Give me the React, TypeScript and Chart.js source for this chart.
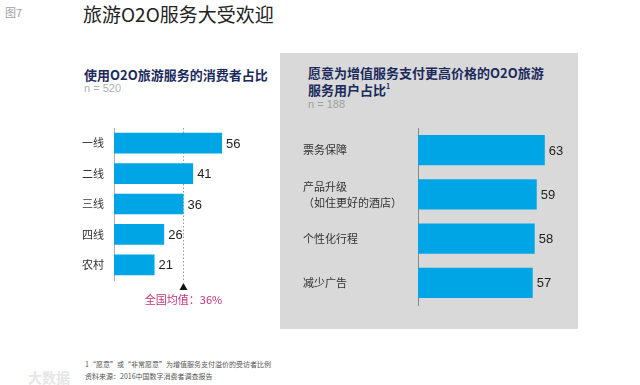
import React, { useEffect, useRef } from "react";
import { Chart, registerables } from "chart.js";

Chart.register(...registerables);

const leftCategories = ["一线", "二线", "三线", "四线", "农村"];
const leftValues = [56, 41, 36, 26, 21];
const nationalAverage = 36;
const nationalAverageLabel = "全国均值：36%";

const rightCategories = [["票务保障"], ["产品升级", "（如住更好的酒店）"], ["个性化行程"], ["减少广告"]];
const rightValues = [63, 59, 58, 57];

const BAR_COLOR = "#00a5e6";
const CJK = '"Noto Sans CJK SC", sans-serif';
const LATIN = '"Liberation Sans", Arial, sans-serif';

const valueLabels = {
  id: "valueLabels",
  afterDatasetsDraw(chart: any) {
    const ctx = chart.ctx;
    const meta = chart.getDatasetMeta(0);
    const data = chart.data.datasets[0].data;
    ctx.save();
    ctx.font = `13px ${LATIN}`;
    ctx.fillStyle = "#222";
    ctx.textBaseline = "middle";
    ctx.textAlign = "left";
    meta.data.forEach((el: any, i: number) => {
      ctx.fillText(String(data[i]), el.x + 4, el.y + 1);
    });
    ctx.restore();
  },
};

const averageMarker = {
  id: "averageMarker",
  beforeDatasetsDraw(chart: any) {
    const ctx = chart.ctx;
    const x = chart.scales.x.getPixelForValue(nationalAverage);
    const { top, bottom } = chart.chartArea;
    ctx.save();
    ctx.strokeStyle = "#9a9a9a";
    ctx.lineWidth = 1;
    ctx.setLineDash([1.5, 2]);
    ctx.beginPath();
    ctx.moveTo(Math.round(x) + 0.5, top);
    ctx.lineTo(Math.round(x) + 0.5, bottom + 2);
    ctx.stroke();
    ctx.restore();
  },
  afterDraw(chart: any) {
    const ctx = chart.ctx;
    const x = chart.scales.x.getPixelForValue(nationalAverage);
    const { bottom } = chart.chartArea;
    ctx.save();
    ctx.fillStyle = "#111";
    ctx.beginPath();
    ctx.moveTo(x, bottom + 3);
    ctx.lineTo(x - 4, bottom + 10);
    ctx.lineTo(x + 4, bottom + 10);
    ctx.closePath();
    ctx.fill();
    ctx.font = `11px ${CJK}`;
    ctx.fillStyle = "#c2317e";
    ctx.textAlign = "center";
    ctx.textBaseline = "middle";
    ctx.fillText(nationalAverageLabel, x, bottom + 20);
    ctx.restore();
  },
};

function BarChart(props: {
  labels: any[];
  values: number[];
  max: number;
  axisWidth: number;
  padTop: number;
  padBottom: number;
  barPct: number;
  crossAlign: "near" | "far";
  tickPadding: number;
  axisColor: string;
  fontSize: number;
  extra?: any[];
  left: number;
  top: number;
  width: number;
  height: number;
}) {
  const ref = useRef<HTMLCanvasElement | null>(null);
  useEffect(() => {
    if (!ref.current) return;
    const chart = new Chart(ref.current, {
      type: "bar",
      data: {
        labels: props.labels,
        datasets: [
          {
            data: props.values,
            backgroundColor: BAR_COLOR,
            borderWidth: 0,
            categoryPercentage: 1,
            barPercentage: props.barPct,
          },
        ],
      },
      options: {
        indexAxis: "y",
        animation: false,
        responsive: false,
        devicePixelRatio: 1,
        layout: { padding: { top: props.padTop, bottom: props.padBottom, left: 0, right: 0 } },
        plugins: { legend: { display: false }, tooltip: { enabled: false }, title: { display: false } },
        scales: {
          x: { display: false, min: 0, max: props.max },
          y: {
            afterFit: (scale: any) => {
              scale.width = props.axisWidth;
              scale.paddingTop = 0;
              scale.paddingBottom = 0;
            },
            grid: { display: false, drawTicks: false },
            border: { display: true, color: props.axisColor, width: 1 },
            ticks: {
              crossAlign: props.crossAlign,
              padding: props.tickPadding,
              color: "#333",
              font: { family: CJK, size: props.fontSize, lineHeight: 1.45 },
            },
          },
        },
      } as any,
      plugins: [valueLabels, ...(props.extra || [])],
    });
    return () => chart.destroy();
  }, []);
  return (
    <canvas
      ref={ref}
      width={props.width}
      height={props.height}
      style={{ position: "absolute", left: props.left, top: props.top, width: props.width, height: props.height }}
    />
  );
}

const abs = (left: number, top: number, extra: any = {}) => ({
  position: "absolute" as const,
  left,
  top,
  whiteSpace: "nowrap" as const,
  margin: 0,
  ...extra,
});

export default function App() {
  return (
    <div style={{ position: "absolute", left: 0, top: 0, width: 640, height: 385, background: "#fff", overflow: "hidden" }}>
      <div style={abs(5, 5, { fontSize: 11, lineHeight: "14px", color: "#a0a0a0", fontFamily: CJK })}>图7</div>
      <div style={abs(83, 2, { fontSize: 19, lineHeight: "24px", color: "#222", fontFamily: CJK })}>旅游O2O服务大受欢迎</div>

      <div style={abs(84, 66, { fontSize: 13, lineHeight: "18px", color: "#1b2a5c", fontWeight: 700, fontFamily: CJK })}>
        使用O2O旅游服务的消费者占比
      </div>
      <div style={abs(84, 81, { fontSize: 11, lineHeight: "14px", color: "#b0b0b0", fontFamily: LATIN })}>n = 520</div>

      <div style={{ position: "absolute", left: 280, top: 53, width: 298, height: 276, background: "#d9d9d9" }} />
      <div style={abs(308, 64, { fontSize: 13, lineHeight: "17px", color: "#1b2a5c", fontWeight: 700, fontFamily: CJK })}>
        愿意为增值服务支付更高价格的O2O旅游
        <br />
        服务用户占比<sup style={{ fontSize: 7, verticalAlign: "top", lineHeight: "10px" }}>1</sup>
      </div>
      <div style={abs(308, 97, { fontSize: 11, lineHeight: "14px", color: "#a0a0a0", fontFamily: LATIN })}>n = 188</div>

      <BarChart
        labels={leftCategories}
        values={leftValues}
        max={100}
        axisWidth={54}
        padTop={8}
        padBottom={35}
        barPct={0.68}
        crossAlign="near"
        tickPadding={10}
        axisColor="#b0b0b0"
        fontSize={11}
        extra={[averageMarker]}
        left={60}
        top={120}
        width={247}
        height={195}
      />
      <BarChart
        labels={rightCategories}
        values={rightValues}
        max={80}
        axisWidth={115}
        padTop={8}
        padBottom={5}
        barPct={0.68}
        crossAlign="far"
        tickPadding={10}
        axisColor="#8a8a8a"
        fontSize={11}
        left={303}
        top={120}
        width={276}
        height={190}
      />

      <div style={abs(28, 369, { fontSize: 14, lineHeight: "16px", color: "#e6e6e6", fontFamily: CJK, fontWeight: 700 })}>大数据</div>
      <div style={abs(85, 359, { fontSize: 7, lineHeight: "10px", color: "#555", fontFamily: CJK })}>
        1“愿意”或“非常愿意”为增值服务支付溢价的受访者比例
      </div>
      <div style={abs(85, 371, { fontSize: 7, lineHeight: "10px", color: "#555", fontFamily: CJK })}>
        资料来源：2016中国数字消费者调查报告
      </div>
    </div>
  );
}
